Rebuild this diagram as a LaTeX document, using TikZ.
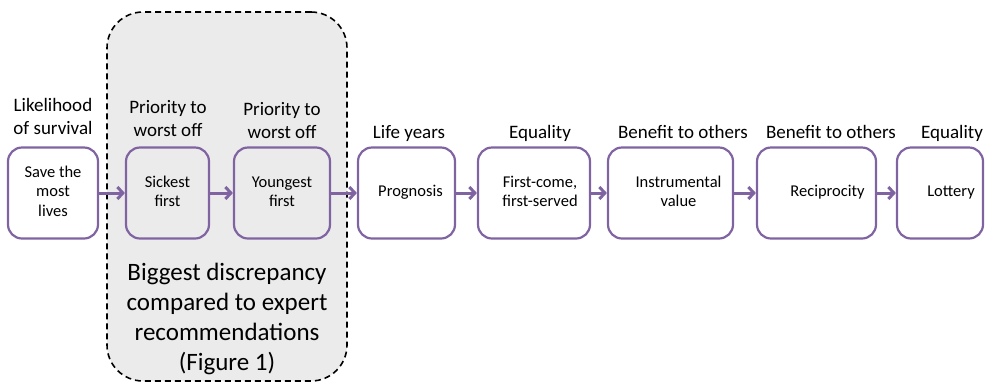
\documentclass[tikz,border=0pt]{standalone}
\usepackage{fontspec}
\setmainfont{Carlito}
\usepackage{tikz}
\usetikzlibrary{arrows.meta}
\definecolor{boxpurple}{RGB}{128,100,162}
\definecolor{zonegray}{RGB}{235,235,235}
% text inside a box, pushed right by half of #1
\newcommand{\boxtext}[2]{\hspace*{#1}\begin{tabular}{@{}c@{}}#2\end{tabular}}

\begin{document}
\begin{tikzpicture}[x=1pt, y=-1pt,
  stepbox/.style={draw=boxpurple, line width=2.2pt, rounded corners=14pt, minimum height=91pt, inner sep=0pt, font=\fontsize{16.5}{19.5}\selectfont},
  head/.style={anchor=south, align=center, inner sep=0pt, text depth=0pt, font=\fontsize{19}{23}\selectfont},
  zone/.style={draw, fill=zonegray, line width=1.6pt, dash pattern=on 6pt off 4pt, rounded corners=36pt, inner sep=0pt},
  link/.style={draw=boxpurple, line width=3pt, -{Straight Barb[length=5.5pt,width=12pt]}}]

  \useasboundingbox (0,0) rectangle (988,384);

  % shaded zone
  \node[zone, minimum width=240pt, minimum height=369pt] (zone) at (227,196.5) {};
  \node[anchor=south, align=center, inner sep=0pt, text depth=0pt, font=\fontsize{25}{30}\selectfont] (note) at (227,371) {Biggest discrepancy\\compared to expert\\recommendations\\(Figure 1)};

  % boxes
  \node[stepbox, minimum width=90pt]  (save)  at (53,193)    {\boxtext{0pt}{Save the\\most\\lives}};
  \node[stepbox, minimum width=83pt]  (sick)  at (167.5,193) {\boxtext{0pt}{Sickest\\first}};
  \node[stepbox, minimum width=96pt]  (young) at (282,193)   {\boxtext{0pt}{Youngest\\first}};
  \node[stepbox, minimum width=97pt]  (prog)  at (406.5,193) {\boxtext{8pt}{Prognosis}};
  \node[stepbox, minimum width=112pt] (fcfs)  at (534,193)   {\boxtext{12pt}{First-come,\\first-served}};
  \node[stepbox, minimum width=125pt] (instr) at (670.5,193) {\boxtext{16pt}{Instrumental\\value}};
  \node[stepbox, minimum width=119pt] (recip) at (816.5,193) {\boxtext{22pt}{Reciprocity}};
  \node[stepbox, minimum width=86pt]  (lott)  at (940,193)   {\boxtext{22pt}{Lottery}};

  % headings
  \node[head] (hsave)  at (53,135)  {Likelihood\\of survival};
  \node[head] (hsick)  at (168,137) {Priority to\\worst off};
  \node[head] (hyoung) at (282,139) {Priority to\\worst off};
  \node[head] (hprog)  at (409,139) {Life years};
  \node[head] (hfcfs)  at (540,139) {Equality};
  \node[head] (hinstr) at (683,139) {Benefit to others};
  \node[head] (hrecip) at (831,139) {Benefit to others};
  \node[head] (hlott)  at (952,139) {Equality};

  % arrows
  \draw[link] (save)  -- (sick);
  \draw[link] (sick)  -- (young);
  \draw[link] (young) -- (prog);
  \draw[link] (prog)  -- (fcfs);
  \draw[link] (fcfs)  -- (instr);
  \draw[link] (instr) -- (recip);
  \draw[link] (recip) -- (lott);
\end{tikzpicture}
\end{document}
